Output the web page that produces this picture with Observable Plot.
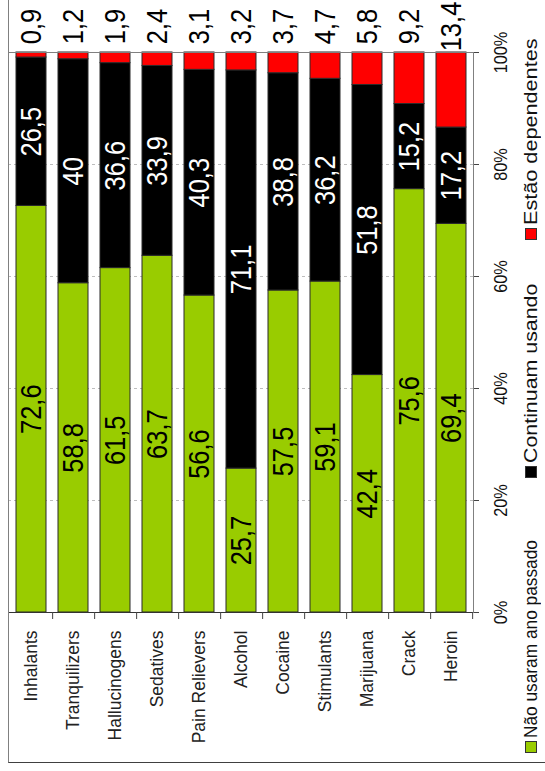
<!DOCTYPE html>
<html>
<head>
<meta charset="utf-8">
<script src="https://cdn.jsdelivr.net/npm/d3@7"></script>
<script src="https://cdn.jsdelivr.net/npm/@observablehq/plot@0.6"></script>
<style>
  html, body { margin: 0; padding: 0; background: #fff; }
  #wrap { position: relative; width: 545px; height: 771px; overflow: hidden; font-family: "Liberation Sans", Arial, sans-serif; }
  #border { position: absolute; left: 8px; top: -2px; width: 540px; height: 765px; box-sizing: border-box;
            border-left: 1px solid #808080; border-bottom: 1px solid #404040; pointer-events: none; }
  #legend { position: absolute; left: 521px; top: 754px; width: 760px; height: 20px;
            transform-origin: 0 0; transform: rotate(-90deg); font-size: 18.5px; color: #111; }
  .item { position: absolute; top: 0; height: 20px; display: flex; align-items: center; white-space: nowrap; }
  .sw { width: 10px; height: 10px; border: 1px solid #333; margin-right: 3px; flex: none; }
  .lab { display: inline-block; transform-origin: 0 50%; }
</style>
</head>
<body>
<div id="wrap">
  <div id="chart"></div>
  <div id="border"></div>
  <div id="legend"></div>
</div>
<script>
// ---- data ----
const categories = ["Inhalants","Tranquilizers","Hallucinogens","Sedatives","Pain Relievers","Alcohol","Cocaine","Stimulants","Marijuana","Crack","Heroin"];
const naoUsaram   = [72.6, 58.8, 61.5, 63.7, 56.6, 25.7, 57.5, 59.1, 42.4, 75.6, 69.4];
const continuam   = [26.5, 40,   36.6, 33.9, 40.3, 71.1, 38.8, 36.2, 51.8, 15.2, 17.2];
const dependentes = [0.9,  1.2,  1.9,  2.4,  3.1,  3.2,  3.7,  4.7,  5.8,  9.2,  13.4];
const seriesNames  = ["Não usaram ano passado", "Continuam usando", "Estão dependentes"];
const seriesColors = ["#99cc00", "#000000", "#ff0000"];
const yTicks = [0, 20, 40, 60, 80, 100];
const gridTicks = [20, 40, 60, 80];

// ---- table built from the arrays ----
const seriesValues = [naoUsaram, continuam, dependentes];
const rows = [];
categories.forEach((c, i) => {
  let acc = 0;
  seriesValues.forEach((arr, s) => {
    const v = arr[i];
    rows.push({cat: c, series: seriesNames[s], value: v, y1: acc, y2: acc + v, mid: acc + v / 2});
    acc += v;
  });
});
const fmt = v => String(v).replace(".", ",");

// ---- layout ----
const W = 545, H = 771, mL = 8, mR = 72, mT = 52, mB = 159;
const padIn = 0.29, padOut = 0.145;
const step = (W - mL - mR) / (categories.length - padIn + 2 * padOut);
const font = "Liberation Sans, Arial, sans-serif";

const chart = Plot.plot({
  width: W, height: H,
  marginLeft: mL, marginRight: mR, marginTop: mT, marginBottom: mB,
  style: {fontFamily: font, background: "transparent", color: "#111"},
  x: {domain: categories, paddingInner: padIn, paddingOuter: padOut, axis: null},
  y: {domain: [0, 100], axis: null},
  color: {domain: seriesNames, range: seriesColors},
  marks: [
    Plot.ruleY(gridTicks, {stroke: "#bdbdbd", strokeDasharray: "3,3", strokeWidth: 1}),
    Plot.barY(rows, {x: "cat", y1: "y1", y2: "y2", fill: "series", stroke: "#2a2a2a", strokeWidth: 1}),
    Plot.frame({stroke: "#808080"}),
    Plot.ruleY([0], {stroke: "#333"}),
    // category boundary ticks
    Plot.axisX({tickSize: 7, tickFormat: () => "", label: null, dx: step / 2, stroke: "#444"}),
    // value axis ticks
    Plot.axisY({anchor: "right", ticks: yTicks, tickSize: 5, tickFormat: () => "", label: null, stroke: "#444"}),
    Plot.text(yTicks, {y: d => d, text: d => d + "%", frameAnchor: "right", dx: 28, rotate: -90,
      textAnchor: "middle", lineAnchor: "middle", fontSize: 18.5, fill: "#111"}),
    // category labels
    Plot.text(categories, {x: d => d, text: d => d, frameAnchor: "bottom", dy: 18, rotate: -90,
      textAnchor: "end", lineAnchor: "middle", fontSize: 17.5, fill: "#222"}),
    // values inside bars
    Plot.text(rows.filter(d => d.series === seriesNames[0]), {x: "cat", y: "mid", text: d => fmt(d.value),
      rotate: -90, textAnchor: "middle", lineAnchor: "middle", fontSize: 30, fill: "#000"}),
    Plot.text(rows.filter(d => d.series === seriesNames[1]), {x: "cat", y: "mid", text: d => fmt(d.value),
      rotate: -90, textAnchor: "middle", lineAnchor: "middle", fontSize: 30, fill: "#fff"}),
    // dependentes values above the bars
    Plot.text(categories, {x: d => d, text: (d, i) => fmt(dependentes[i]), frameAnchor: "top", dy: -26,
      rotate: -90, textAnchor: "middle", lineAnchor: "middle", fontSize: 30, fill: "#000"})
  ]
});

// condense the large digit labels along their reading direction
chart.querySelectorAll('g[font-size="30"] text').forEach(t => {
  t.setAttribute("transform", (t.getAttribute("transform") || "") + " scale(0.85,1)");
});
chart.querySelectorAll('g[font-size="18.5"] text').forEach(t => {
  t.setAttribute("transform", (t.getAttribute("transform") || "") + " scale(0.88,1)");
});
document.getElementById("chart").appendChild(chart);

// ---- legend (rotated, reading bottom to top) ----
const legendOffsets = [1, 276, 514];
const legendTextLengths = [198, 179, 186];
const legend = document.getElementById("legend");
seriesNames.forEach((name, i) => {
  const item = document.createElement("div");
  item.className = "item";
  item.style.left = legendOffsets[i] + "px";
  const sw = document.createElement("span");
  sw.className = "sw";
  sw.style.background = seriesColors[i];
  const lab = document.createElement("span");
  lab.className = "lab";
  lab.textContent = name;
  item.appendChild(sw);
  item.appendChild(lab);
  legend.appendChild(item);
  const w = lab.offsetWidth;
  if (w > 0) lab.style.transform = `scaleX(${legendTextLengths[i] / w})`;
});
</script>
</body>
</html>
